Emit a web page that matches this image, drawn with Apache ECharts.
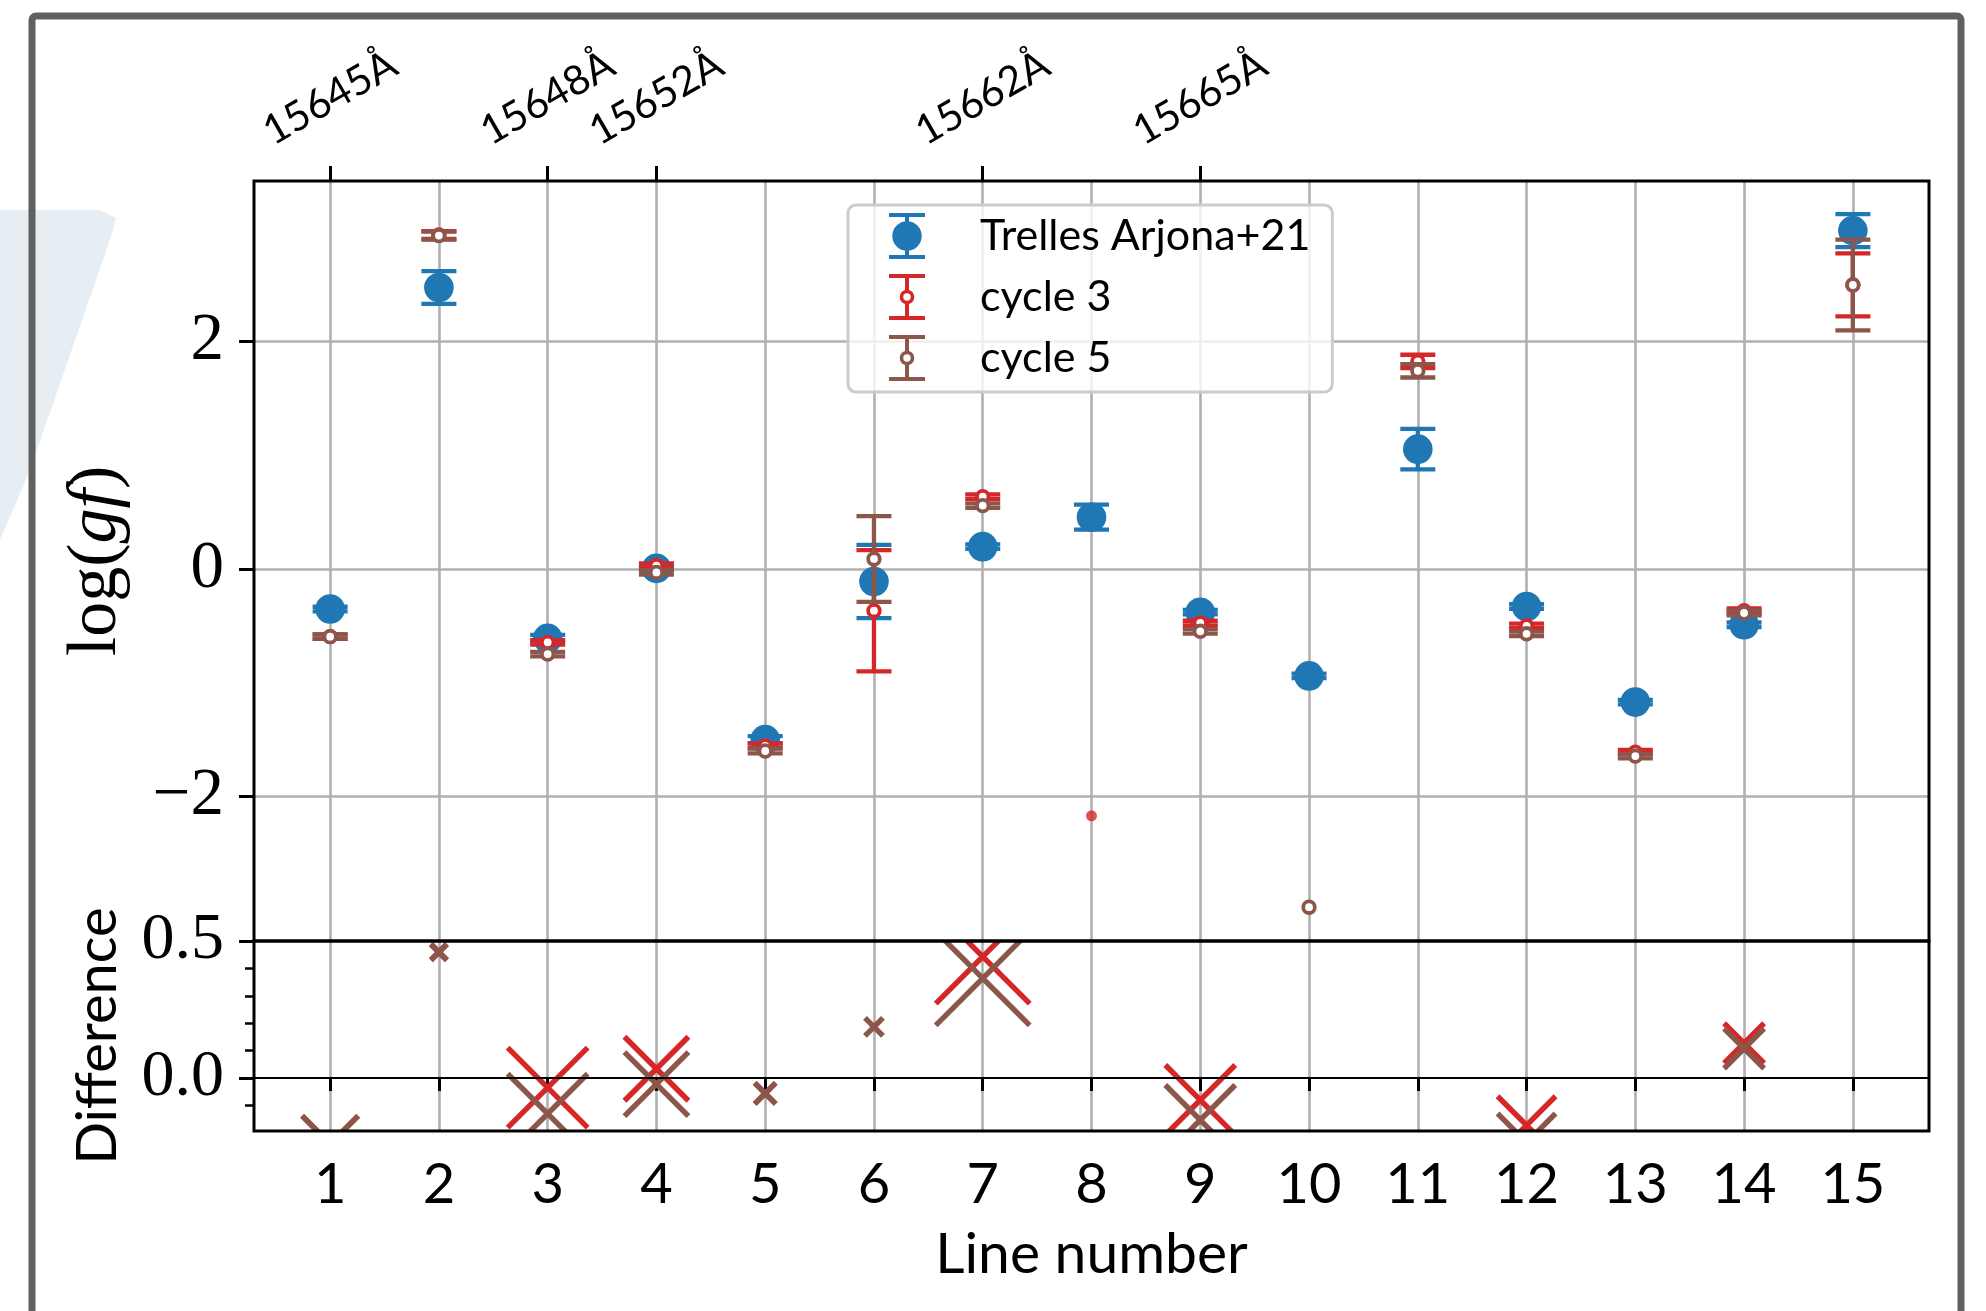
<!DOCTYPE html>
<html>
<head>
<meta charset="utf-8">
<script src="https://cdn.jsdelivr.net/npm/echarts@6/dist/echarts.min.js"></script>
<style>
html,body{margin:0;padding:0;background:#fff;}
#chart{width:1986px;height:1311px;}
</style>
</head>
<body>
<div id="chart"></div>
<script>
// ---------------- data ----------------
const lineNumbers = [1, 2, 3, 4, 5, 6, 7, 8, 9, 10, 11, 12, 13, 14, 15];

const trellesLogGf = [-0.352, 2.474, -0.61, 0.005, -1.50, -0.11, 0.196, 0.455, -0.38, -0.94, 1.053, -0.33, -1.17, -0.49, 2.974];
const trellesErr   = [0.02, 0.144, 0.03, 0.02, 0.03, 0.322, 0.02, 0.11, 0.02, 0.02, 0.178, 0.02, 0.02, 0.02, 0.145];

const cycle3LogGf = [-0.595, 2.935, -0.645, 0.03, -1.555, -0.367, 0.636, null, -0.475, null, 1.824, -0.50, -1.61, -0.367, 2.497];
const cycle3Err   = [0.02, 0.035, 0.02, 0.02, 0.02, 0.533, 0.02, null, 0.02, null, 0.059, 0.02, 0.02, 0.02, 0.277];

const cycle5LogGf = [-0.595, 2.93, -0.748, -0.03, -1.60, 0.088, 0.557, null, -0.548, -2.973, 1.742, -0.57, -1.645, -0.387, 2.496];
const cycle5Err   = [0.02, 0.035, 0.02, 0.02, 0.02, 0.377, 0.02, null, 0.02, null, 0.059, 0.02, 0.02, 0.02, 0.399];

// cycle 3 line without a fitted uncertainty
const cycle3NoErrLines  = [8];
const cycle3NoErrValues = [-2.17];

// difference panel (cycle - Trelles Arjona+21) and relative weight (marker size)
const diffCycle3 = [-0.24, 0.46, -0.035, 0.034, -0.056, null, 0.443, null, -0.08, null, null, -0.172, null, 0.127, null];
const diffCycle5 = [-0.24, 0.459, -0.13, -0.022, -0.056, 0.187, 0.364, null, -0.153, null, null, -0.235, null, 0.108, null];
const diffWeight = [2.8, 0.8, 4.0, 3.2, 1.05, 0.9, 4.7, null, 3.5, null, null, 2.9, null, 2.0, null];

// axis ticks
const topTickLines  = [1, 3, 4, 7, 9];
const topTickLabels = ['15645Å', '15648Å', '15652Å', '15662Å', '15665Å'];
const logGfTicks = [-2, 0, 2];
const diffTicks = [0, 0.5];
const diffMinorTicks = [-0.1, 0.1, 0.2, 0.3, 0.4];

// ---------------- layout / style ----------------
const C_BLUE = '#1f77b4', C_RED = '#d62728', C_BROWN = '#8c564b';
const GRID_L = 254, GRID_R = 1929, TOP_T = 181, TOP_B = 941, BOT_B = 1131;
const SANS = "Lato, 'DejaVu Sans', sans-serif";
const SERIF = "'Liberation Serif', 'DejaVu Serif', serif";
const GRID_COLOR = '#b0b0b0';
const X_MIN = 0.3, X_MAX = 15.7;

function errData(vals, errs) {
  const out = [];
  lineNumbers.forEach((x, i) => {
    if (vals[i] !== null) out.push([x, vals[i], errs[i] === null ? NaN : errs[i]]);
  });
  return out;
}
function diffData(vals) {
  const out = [];
  lineNumbers.forEach((x, i) => {
    if (vals[i] !== null) out.push([x, vals[i], diffWeight[i]]);
  });
  return out;
}

function errRender(color, filled) {
  return function (params, api) {
    const x = api.value(0), y = api.value(1), e = api.value(2);
    const c = api.coord([x, y]);
    const children = [];
    if (!isNaN(e) && e > 0) {
      const t = api.coord([x, y + e])[1], b = api.coord([x, y - e])[1];
      const st = { stroke: color, lineWidth: 4.3, fill: null };
      children.push({ type: 'line', shape: { x1: c[0], y1: t, x2: c[0], y2: b }, style: st });
      children.push({ type: 'line', shape: { x1: c[0] - 17.5, y1: t, x2: c[0] + 17.5, y2: t }, style: st });
      children.push({ type: 'line', shape: { x1: c[0] - 17.5, y1: b, x2: c[0] + 17.5, y2: b }, style: st });
    }
    if (filled) {
      children.push({ type: 'circle', shape: { cx: c[0], cy: c[1], r: 14.8 }, style: { fill: color } });
    } else {
      children.push({ type: 'circle', shape: { cx: c[0], cy: c[1], r: 5.8 }, style: { fill: '#fff', stroke: color, lineWidth: 3.8 } });
    }
    return { type: 'group', children: children };
  };
}

function crossRender(color) {
  return function (params, api) {
    const c = api.coord([api.value(0), api.value(1)]);
    const h = api.value(2) * 10;
    const st = { stroke: color, lineWidth: 5.4, lineCap: 'butt' };
    return {
      type: 'group', children: [
        { type: 'line', shape: { x1: c[0] - h, y1: c[1] - h, x2: c[0] + h, y2: c[1] + h }, style: st },
        { type: 'line', shape: { x1: c[0] - h, y1: c[1] + h, x2: c[0] + h, y2: c[1] - h }, style: st }
      ]
    };
  };
}

const ICON_FILLED = 'path://M0 0H36V4H0Z M0 42H36V46H0Z M16 0H20V46H16Z M3.3 23A14.7 14.7 0 1 1 32.7 23A14.7 14.7 0 1 1 3.3 23Z';
const ICON_HOLLOW = 'path://M0 0H36V4H0Z M0 42H36V46H0Z M16 0H20V17H16Z M16 29H20V46H16Z M10.7 23A7.3 7.3 0 1 1 25.3 23A7.3 7.3 0 1 1 10.7 23Z M14.3 23A3.7 3.7 0 1 0 21.7 23A3.7 3.7 0 1 0 14.3 23Z';

const chart = echarts.init(document.getElementById('chart'));

const option = {
  backgroundColor: '#ffffff',
  animation: false,
  textStyle: { fontFamily: SANS },
  graphic: [
    { type: 'polygon', z: -10, silent: true,
      shape: { points: [[0, 210], [100, 210], [116, 218], [112, 234], [30, 470], [0, 540]] },
      style: { fill: '#e6eef4' } },
    { type: 'rect', z: -5, silent: true,
      shape: { x: 32, y: 16, width: 1929, height: 1420, r: 4 },
      style: { fill: null, stroke: '#606060', lineWidth: 7 } },
    { type: 'rect', z: 5, silent: true,
      shape: { x: GRID_L, y: TOP_T, width: GRID_R - GRID_L, height: TOP_B - TOP_T },
      style: { fill: null, stroke: '#000', lineWidth: 3 } },
    { type: 'rect', z: 5, silent: true,
      shape: { x: GRID_L, y: TOP_B, width: GRID_R - GRID_L, height: BOT_B - TOP_B },
      style: { fill: null, stroke: '#000', lineWidth: 3 } }
  ],
  grid: [
    { left: GRID_L, right: 1986 - GRID_R, top: TOP_T, height: TOP_B - TOP_T, outerBoundsMode: 'none', containLabel: false },
    { left: GRID_L, right: 1986 - GRID_R, top: TOP_B, height: BOT_B - TOP_B, outerBoundsMode: 'none', containLabel: false }
  ],
  legend: {
    orient: 'vertical',
    left: 848, top: 205,
    padding: [8, 22, 11, 41],
    itemGap: 15,
    itemWidth: 36, itemHeight: 46,
    backgroundColor: 'rgba(255,255,255,0.8)',
    borderColor: '#cccccc', borderWidth: 3, borderRadius: 8,
    selectedMode: false,
    itemStyle: { borderWidth: 0 },
    textStyle: { fontFamily: SANS, fontSize: 43, color: '#000', padding: [0, 0, 0, 50] },
    data: [
      { name: 'Trelles Arjona+21', icon: ICON_FILLED, itemStyle: { color: C_BLUE } },
      { name: 'cycle 3', icon: ICON_HOLLOW, itemStyle: { color: C_RED } },
      { name: 'cycle 5', icon: ICON_HOLLOW, itemStyle: { color: C_BROWN } }
    ],
    z: 20
  },
  xAxis: [
    { // top panel, bottom side: vertical grid lines only
      gridIndex: 0, type: 'value', position: 'bottom', min: X_MIN, max: X_MAX,
      axisLine: { show: false },
      axisTick: { show: false, customValues: lineNumbers },
      axisLabel: { show: false, customValues: lineNumbers },
      splitLine: { show: true, lineStyle: { color: GRID_COLOR, width: 2.6 } }
    },
    { // top panel, top side: wavelengths
      gridIndex: 0, type: 'value', position: 'top', min: X_MIN, max: X_MAX,
      axisLine: { show: false },
      axisTick: { show: true, inside: false, length: 15, lineStyle: { color: '#000', width: 3 }, customValues: topTickLines },
      axisLabel: {
        show: true, customValues: topTickLines, rotate: -30, align: 'center', verticalAlign: 'middle',
        margin: 83, fontSize: 41, fontFamily: SANS, color: '#000', hideOverlap: false,
        formatter: function (v) { const i = topTickLines.indexOf(Math.round(v)); return i >= 0 ? topTickLabels[i] : ''; }
      },
      splitLine: { show: false }
    },
    { // bottom panel
      gridIndex: 1, type: 'value', position: 'bottom', min: X_MIN, max: X_MAX,
      axisLine: { show: false },
      axisTick: { show: true, inside: false, length: 13, lineStyle: { color: '#000', width: 3 }, customValues: lineNumbers },
      axisLabel: { show: true, customValues: lineNumbers, margin: 26, fontSize: 56, fontFamily: SANS, color: '#000',
        formatter: function (v) { return String(Math.round(v)); } },
      splitLine: { show: true, lineStyle: { color: GRID_COLOR, width: 2.6 } },
      name: 'Line number', nameLocation: 'middle', nameGap: 95,
      nameTextStyle: { fontSize: 57, fontFamily: SANS, color: '#000' }
    }
  ],
  yAxis: [
    {
      gridIndex: 0, type: 'value', min: -3.27, max: 3.41,
      axisLine: { show: false },
      axisTick: { show: true, inside: false, length: 15, lineStyle: { color: '#000', width: 3 }, customValues: logGfTicks },
      axisLabel: { show: true, customValues: logGfTicks, margin: 30, fontSize: 67, fontFamily: SERIF, color: '#000',
        formatter: function (v) { return String(Math.round(v)).replace('-', '\u2212'); } },
      splitLine: { show: true, lineStyle: { color: GRID_COLOR, width: 2.6 } },
      name: '{n|log(}{i|gf}{n|)}', nameLocation: 'middle', nameGap: 122, nameRotate: 90,
      nameTextStyle: {
        rich: {
          n: { fontFamily: SERIF, fontSize: 70, color: '#000' },
          i: { fontFamily: SERIF, fontSize: 70, fontStyle: 'italic', color: '#000' }
        }
      }
    },
    {
      gridIndex: 1, type: 'value', min: -0.193, max: 0.5,
      axisLine: { show: false },
      axisTick: { show: true, inside: false, length: 15, lineStyle: { color: '#000', width: 3 }, customValues: diffTicks },
      axisLabel: { show: true, customValues: diffTicks, margin: 30, fontSize: 66, fontFamily: SERIF, color: '#000',
        formatter: function (v) { return v.toFixed(1); } },
      splitLine: { show: false },
      name: 'Difference', nameLocation: 'middle', nameGap: 128, nameRotate: 90,
      nameTextStyle: { fontSize: 56, fontFamily: SANS, color: '#000' }
    },
    {
      gridIndex: 1, type: 'value', min: -0.193, max: 0.5, position: 'left',
      axisLine: { show: false },
      axisTick: { show: true, inside: false, length: 9, lineStyle: { color: '#000', width: 2.5 }, customValues: diffMinorTicks },
      axisLabel: { show: false, customValues: diffMinorTicks },
      splitLine: { show: false }
    }
  ],
  series: [
    {
      name: 'Trelles Arjona+21', type: 'custom', xAxisIndex: 0, yAxisIndex: 0,
      itemStyle: { color: C_BLUE },
      renderItem: errRender(C_BLUE, true),
      encode: { x: 0, y: 1 },
      data: errData(trellesLogGf, trellesErr), z: 2
    },
    {
      name: 'cycle 3', type: 'custom', xAxisIndex: 0, yAxisIndex: 0,
      itemStyle: { color: C_RED },
      renderItem: errRender(C_RED, false),
      encode: { x: 0, y: 1 },
      data: errData(cycle3LogGf, cycle3Err), z: 2
    },
    {
      name: 'cycle 3 (no error)', type: 'scatter', xAxisIndex: 0, yAxisIndex: 0,
      symbol: 'circle', symbolSize: 11, itemStyle: { color: C_RED },
      data: cycle3NoErrLines.map((x, i) => [x, cycle3NoErrValues[i]]), z: 2
    },
    {
      name: 'cycle 5', type: 'custom', xAxisIndex: 0, yAxisIndex: 0,
      itemStyle: { color: C_BROWN },
      renderItem: errRender(C_BROWN, false),
      encode: { x: 0, y: 1 },
      data: errData(cycle5LogGf, cycle5Err), z: 2
    },
    {
      name: 'zero', type: 'line', xAxisIndex: 2, yAxisIndex: 1, data: [], silent: true,
      markLine: {
        silent: true, symbol: 'none', label: { show: false },
        lineStyle: { color: '#000', width: 2, type: 'solid' },
        data: [{ yAxis: 0 }]
      }, z: 1
    },
    {
      name: 'diff cycle 3', type: 'custom', xAxisIndex: 2, yAxisIndex: 1, clip: true,
      renderItem: crossRender(C_RED), encode: { x: 0, y: 1 },
      data: diffData(diffCycle3), z: 2
    },
    {
      name: 'diff cycle 5', type: 'custom', xAxisIndex: 2, yAxisIndex: 1, clip: true,
      renderItem: crossRender(C_BROWN), encode: { x: 0, y: 1 },
      data: diffData(diffCycle5), z: 2
    }
  ]
};
chart.setOption(option);
</script>
</body>
</html>
